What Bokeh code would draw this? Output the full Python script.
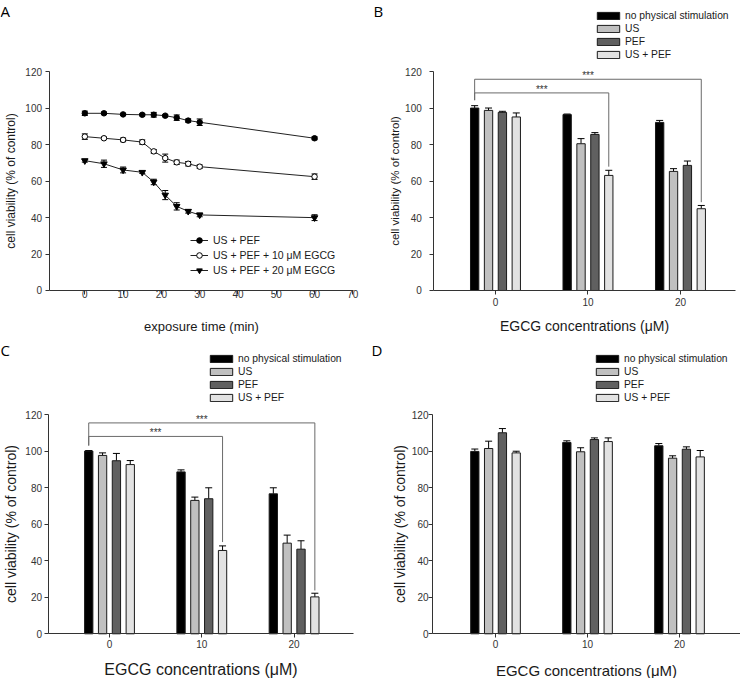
from bokeh.plotting import figure
from bokeh.models import (ColumnDataSource, Whisker, TeeHead, Legend, LegendItem,
                          Label, FixedTicker, Range1d)
from bokeh.layouts import row, column
from bokeh.embed import file_html
from bokeh.resources import INLINE
from bokeh.core.properties import value

FONT = "Liberation Sans"

# ---------------- Panel A data ----------------
time_min = [0, 5, 10, 15, 18, 21, 24, 27, 30, 60]
a_uspef = [97.3, 97.3, 96.7, 96.5, 96.5, 96.0, 94.9, 93.3, 92.4, 83.6]
a_uspef_err = [1.2, 0.7, 0.6, 0.6, 1.3, 0.6, 1.5, 0.9, 1.8, 0.8]
a_egcg10 = [84.5, 83.6, 82.7, 81.5, 76.4, 72.7, 70.4, 69.6, 68.0, 62.5]
a_egcg10_err = [1.5, 0.7, 1.0, 1.2, 1.0, 2.2, 1.2, 1.2, 0.9, 1.5]
a_egcg20 = [71.3, 69.6, 66.2, 64.9, 59.6, 52.4, 46.2, 43.5, 41.5, 40.0]
a_egcg20_err = [0.8, 2.0, 1.6, 0.6, 1.5, 2.5, 2.0, 1.0, 1.0, 1.6]
a_labels = ["US + PEF", "US + PEF + 10 \u03bcM EGCG", "US + PEF + 20 \u03bcM EGCG"]
a_xticks = [0, 10, 20, 30, 40, 50, 60, 70]
y_ticks = [0, 20, 40, 60, 80, 100, 120]

# ---------------- Bar panels data ----------------
egcg = [0, 10, 20]
treatments = ["no physical stimulation", "US", "PEF", "US + PEF"]
bar_colors = ["#000000", "#c0c0c0", "#606060", "#e2e2e2"]
bar_offsets = [-2.25, -0.75, 0.75, 2.25]
bar_width = 0.9

# Panel B
b_none = [100.2, 96.6, 92.3]
b_none_err = [1.3, 0.3, 1.1]
b_us = [98.9, 80.6, 65.4]
b_us_err = [1.3, 2.8, 1.5]
b_pef = [97.8, 85.7, 68.7]
b_pef_err = [0.6, 1.0, 2.4]
b_uspef = [95.3, 63.2, 44.9]
b_uspef_err = [2.2, 2.8, 1.8]
b_sig_levels = [108.5, 116.0]
b_sig_left_low = 104.5
b_sig_right_low = [68.0, 48.5]

# Panel C
c_none = [100.0, 88.6, 76.6]
c_none_err = [0.3, 1.1, 3.3]
c_us = [97.6, 73.0, 49.6]
c_us_err = [1.4, 1.8, 4.4]
c_pef = [94.7, 73.9, 46.3]
c_pef_err = [4.0, 6.0, 4.6]
c_uspef = [92.6, 45.6, 20.2]
c_uspef_err = [2.2, 2.5, 2.0]
c_sig_levels = [108.0, 115.4]
c_sig_left_low = 103.0
c_sig_right_low = [50.2, 23.7]

# Panel D
d_none = [99.8, 104.7, 102.9]
d_none_err = [1.3, 0.9, 1.2]
d_us = [101.4, 99.6, 96.1]
d_us_err = [4.0, 2.2, 1.3]
d_pef = [110.0, 106.3, 101.0]
d_pef_err = [2.3, 0.9, 1.3]
d_uspef = [99.0, 105.2, 96.8]
d_uspef_err = [0.9, 2.0, 3.5]

AX_COLOR = "#333333"
W, H = 370, 339


def make_fig(xr, yr):
    p = figure(width=W, height=H, min_border=0, title=None,
               x_range=Range1d(*xr), y_range=Range1d(*yr),
               output_backend="svg", toolbar_location=None)
    p.outline_line_color = None
    p.xgrid.visible = False
    p.ygrid.visible = False
    p.background_fill_color = "white"
    p.border_fill_color = "white"
    return p


def style_axes(p, xticks, x_at, x_bounds, xlabel, ylabel, x_lab_fs, y_lab_fs,
               x_tick_std, y_tick_std, x_lab_std, y_lab_std, tick_fs="10px"):
    p.xaxis.ticker = FixedTicker(ticks=xticks)
    p.yaxis.ticker = FixedTicker(ticks=y_ticks)
    p.yaxis.fixed_location = x_at
    p.xaxis.fixed_location = 0
    p.yaxis.bounds = (0, 120)
    p.xaxis.bounds = x_bounds
    for ax in (p.xaxis[0], p.yaxis[0]):
        ax.axis_line_color = AX_COLOR
        ax.major_tick_line_color = AX_COLOR
        ax.major_tick_in = 0
        ax.major_tick_out = 4
        ax.minor_tick_line_color = None
        ax.major_label_text_font = FONT
        ax.major_label_text_font_size = tick_fs
        ax.major_label_text_color = "#333333"
        ax.axis_label_text_font = FONT
        ax.axis_label_text_font_style = "normal"
        ax.axis_label_text_color = "#1a1a1a"
    p.xaxis[0].axis_label = xlabel
    p.yaxis[0].axis_label = ylabel
    p.xaxis[0].axis_label_text_font_size = x_lab_fs
    p.yaxis[0].axis_label_text_font_size = y_lab_fs
    p.xaxis[0].major_label_standoff = x_tick_std
    p.yaxis[0].major_label_standoff = y_tick_std
    p.xaxis[0].axis_label_standoff = x_lab_std
    p.yaxis[0].axis_label_standoff = y_lab_std


def panel_letter(p, letter, x):
    p.add_layout(Label(x=x, y=H, x_units="screen", y_units="screen", text=letter,
                       text_baseline="top", text_align="left",
                       text_font="Open Sans", text_font_size="15px", text_color="black"))


# ================= Panel A =================
pA = make_fig((-22.02, 74.61), (-26.91, 159.25))
style_axes(pA, a_xticks, -9.35, (-9.35, 70.2), "exposure time (min)",
           "cell viability (% of control)", "13px", "12px", -4, 3, 17, 5)

series = [(a_uspef, a_uspef_err, "circle", "black", 5.5),
          (a_egcg10, a_egcg10_err, "circle", "white", 5.5),
          (a_egcg20, a_egcg20_err, "inverted_triangle", "black", 6.5)]
legA_items = []
for (vals, errs, mk, fill, sz), lab in zip(series, a_labels):
    src = ColumnDataSource(dict(x=time_min, y=vals,
                                lo=[v - e for v, e in zip(vals, errs)],
                                hi=[v + e for v, e in zip(vals, errs)]))
    ln = pA.line("x", "y", source=src, line_color="#222222", line_width=1)
    pA.add_layout(Whisker(base="x", lower="lo", upper="hi", source=src,
                          line_color="black", line_width=1,
                          upper_head=TeeHead(size=6, line_color="black", line_width=1),
                          lower_head=TeeHead(size=6, line_color="black", line_width=1)))
    sc = pA.scatter("x", "y", source=src, marker=mk, size=sz,
                    fill_color=fill, line_color="black", line_width=1)
    legA_items.append(LegendItem(label=lab, renderers=[ln, sc]))

legA = Legend(items=legA_items, location=(190, 62), orientation="vertical",
              glyph_width=18, glyph_height=14, label_height=14, spacing=1,
              padding=0, margin=0, label_standoff=5,
              border_line_color=None, background_fill_alpha=0,
              label_text_font=FONT, label_text_font_size="10.5px",
              label_text_color="#1a1a1a")
pA.add_layout(legA)
panel_letter(pA, "A", 0)


# ================= Bar panels =================
def bar_panel(letter, means, errs, xr, yr, x_at, x_bounds, fs, legend_xy, letter_x,
              sig=None):
    p = make_fig(xr, yr)
    style_axes(p, egcg, x_at, x_bounds, "EGCG concentrations (\u03bcM)",
               "cell viability (% of control)", *fs)
    items = []
    for i, (m, e) in enumerate(zip(means, errs)):
        xs = [g + bar_offsets[i] for g in egcg]
        src = ColumnDataSource(dict(x=xs, top=m, hi=[a + b for a, b in zip(m, e)]))
        r = p.vbar(x="x", top="top", bottom=0, width=bar_width, source=src,
                   fill_color=bar_colors[i], line_color="#1a1a1a", line_width=1)
        p.add_layout(Whisker(base="x", lower="top", upper="hi", source=src,
                             line_color="black", line_width=1, lower_head=None,
                             upper_head=TeeHead(size=7, line_color="black", line_width=1)))
        items.append(LegendItem(label=treatments[i], renderers=[r]))
    if sig is not None:
        levels, left_low, right_low = sig
        x0 = egcg[0] + bar_offsets[0]
        ends = [egcg[1] + bar_offsets[3], egcg[2] + bar_offsets[3]]
        xs = [[x0, x0, x1, x1] for x1 in ends]
        ys = [[left_low, lv, lv, rl] for lv, rl in zip(levels, right_low)]
        p.multi_line(xs, ys, line_color="#6a6a6a", line_width=1)
        p.text(x=[(x0 + x1) / 2 for x1 in ends], y=[lv - 1.0 for lv in levels],
               text=["***"] * len(levels), text_align="center", text_baseline="bottom",
               text_font=value(FONT), text_font_size="10px", text_color="#333333")
    leg = Legend(items=items, location=legend_xy, orientation="vertical",
                 glyph_width=28, glyph_height=9, label_height=12, spacing=1,
                 padding=0, margin=0, label_standoff=3,
                 border_line_color=None, background_fill_alpha=0,
                 label_text_font=FONT, label_text_font_size="10.3px",
                 label_text_color="#1a1a1a")
    p.add_layout(leg)
    panel_letter(p, letter, letter_x)
    return p


pB = bar_panel("B", [b_none, b_us, b_pef, b_uspef],
               [b_none_err, b_us_err, b_pef_err, b_uspef_err],
               (-13.51, 26.49), (-26.91, 159.25), -6.67, (-6.67, 25.95),
               ("14px", "11.5px", 4, 8, 8, 1), (224, 279), 3,
               sig=(b_sig_levels, b_sig_left_low, b_sig_right_low))

pC = bar_panel("C", [c_none, c_us, c_pef, c_uspef],
               [c_none_err, c_us_err, c_pef_err, c_uspef_err],
               (-11.81, 28.28), (-24.46, 161.04), -6.66, (-6.66, 26.44),
               ("16px", "14px", 2, 2, 10, 4), (207, 275), 0,
               sig=(c_sig_levels, c_sig_left_low, c_sig_right_low))

pD = bar_panel("D", [d_none, d_us, d_pef, d_uspef],
               [d_none_err, d_us_err, d_pef_err, d_uspef_err],
               (-13.59, 26.63), (-24.46, 161.04), -6.85, (-6.85, 26.6),
               ("15px", "14px", 2, 0, 11, 1), (223, 275), 1)

layout = column(row(pA, pB), row(pC, pD))
open("out.html", "w").write(file_html(layout, INLINE))
